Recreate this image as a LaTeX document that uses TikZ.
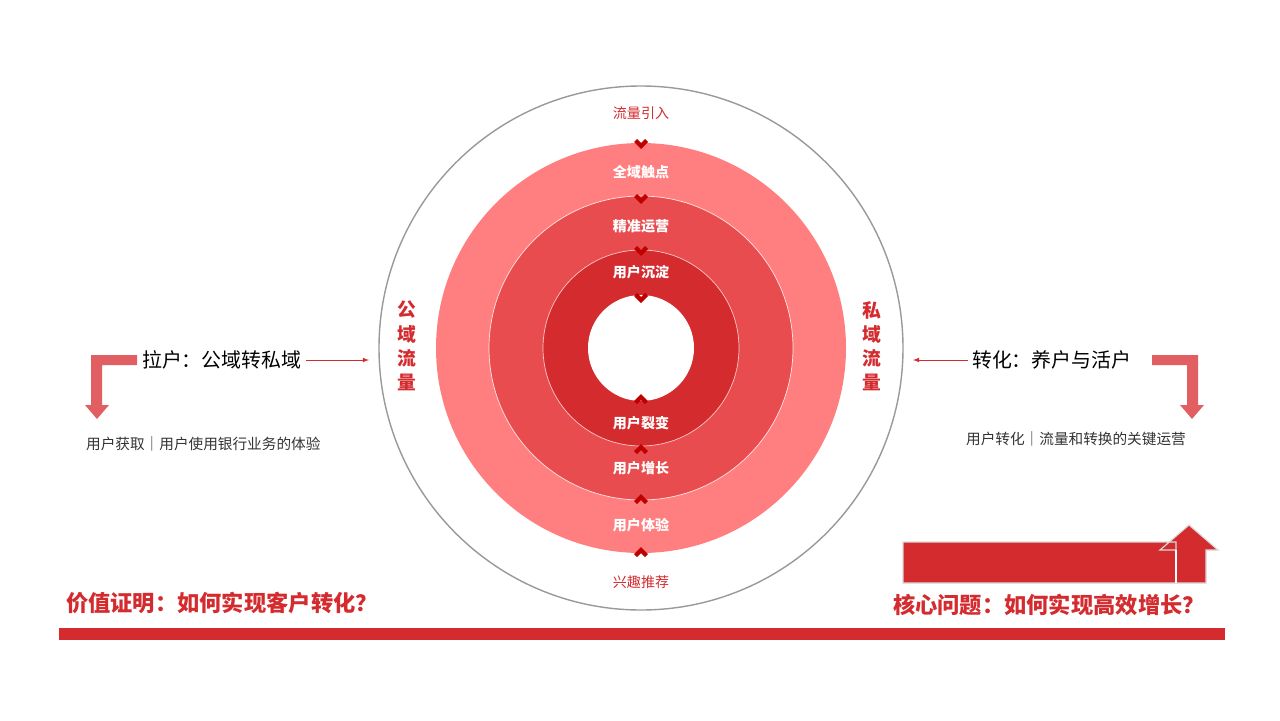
\documentclass[tikz,border=0pt]{standalone}
\usepackage{fontspec}
\setmainfont{Noto Sans CJK SC}
\usetikzlibrary{positioning}
\definecolor{ringA}{HTML}{FF7F80}
\definecolor{ringB}{HTML}{E84C4F}
\definecolor{ringC}{HTML}{D42B2F}
\definecolor{chevred}{HTML}{C00000}
\definecolor{bentred}{HTML}{E15F62}
\definecolor{txtred}{HTML}{D42B2F}
\tikzset{
  chev/.pic={\fill[chevred] (-7,-3) -- (-4,-6) -- (0,-2) -- (4,-6) -- (7,-3) -- (0,4) -- cycle;},
  ringlabel/.style={text=white, font=\fontsize{12}{14}\selectfont\bfseries},
  sidelabel/.style={text=txtred, font=\fontsize{16}{18}\selectfont\bfseries},
  headtext/.style={font=\fontsize{17}{20}\selectfont, anchor=west},
  subtext/.style={text=black!80, font=\fontsize{12.5}{15}\selectfont, anchor=west},
  titletext/.style={text=txtred, font=\fontsize{19}{22}\selectfont\bfseries, anchor=west}
}
\begin{document}
\begin{tikzpicture}[x=0.03cm,y=-0.03cm]
    \useasboundingbox (0,0) rectangle (1280,720);

    % Coordinates
    \coordinate (C) at (641,348);

    % Rings
    \draw[gray!80, line width=1.2pt] (C) circle (262);
    \fill[ringA] (C) circle (205);
    \draw[white!80!ringA, fill=ringB, line width=0.6pt] (C) circle (152);
    \draw[white!70!ringB, fill=ringC, line width=0.6pt] (C) circle (98);
    \fill[white] (C) circle (53);

    % Chevrons
    \foreach \y in {145,200,252,299} \pic at (641,\y) {chev};
    \foreach \y in {398,448,498,551} \pic[yscale=-1] at (641,\y) {chev};

    % Ring labels
    \node[text=txtred, font=\fontsize{12}{14}\selectfont] (flow) at (641,113) {流量引入};
    \node[ringlabel] (touch) at (641,172) {全域触点};
    \node[ringlabel] (oper) at (641,226) {精准运营};
    \node[ringlabel] (settle) at (641,272) {用户沉淀};
    \node[ringlabel] (fission) at (641,423) {用户裂变};
    \node[ringlabel] (grow) at (641,468) {用户增长};
    \node[ringlabel] (exper) at (641,525) {用户体验};
    \node[text=txtred, font=\fontsize{12}{14}\selectfont] (recom) at (641,582) {兴趣推荐};

    % Side labels
    \foreach \ch [count=\i] in {公,域,流,量}
      \node[sidelabel, inner sep=0pt] (pub\i) at (407,286+24*\i) {\ch};
    \foreach \ch [count=\i] in {私,域,流,量}
      \node[sidelabel, inner sep=0pt] (priv\i) at (872,286+24*\i) {\ch};

    % Left
    \node[headtext] (pull) at (138,360) {拉户：公域转私域};
    \coordinate (pullend) at (369,360);
    \draw[txtred, thick, -latex] (pull.east) -- (pullend);
    \fill[bentred] (137,355) -- (91,355) -- (91,405) -- (85,405) -- (97,419) -- (109,405) -- (102,405) -- (102,365) -- (137,365) -- cycle;
    \node[subtext] (acq) at (82,444) {用户获取｜用户使用银行业务的体验};

    % Right
    \node[headtext] (conv) at (968,360) {转化：养户与活户};
    \coordinate (convend) at (913,360);
    \draw[txtred, thick, -latex] (conv.west) -- (convend);
    \fill[bentred] (1152,355) -- (1198,355) -- (1198,405) -- (1204,405) -- (1192,419) -- (1180,405) -- (1187,405) -- (1187,365) -- (1152,365) -- cycle;
    \node[subtext] (convsub) at (962,439) {用户转化｜流量和转换的关键运营};

    % Bottom
    \node[titletext] (value) at (62,603) {价值证明：如何实现客户转化？};
    \node[titletext] (core) at (889,605) {核心问题：如何实现高效增长？};
    \fill[ringC] (59,628) rectangle (1225,640);
    \draw[black!15, line width=1pt, fill=ringC] (903,542) -- (1176,542) -- (1176,550) -- (1160,550) -- (1189,525) -- (1218,550) -- (1206,550) -- (1206,583) -- (903,583) -- cycle;
    \draw[white, line width=1pt] (1176,550) -- (1176,583);

\end{tikzpicture}
\end{document}
